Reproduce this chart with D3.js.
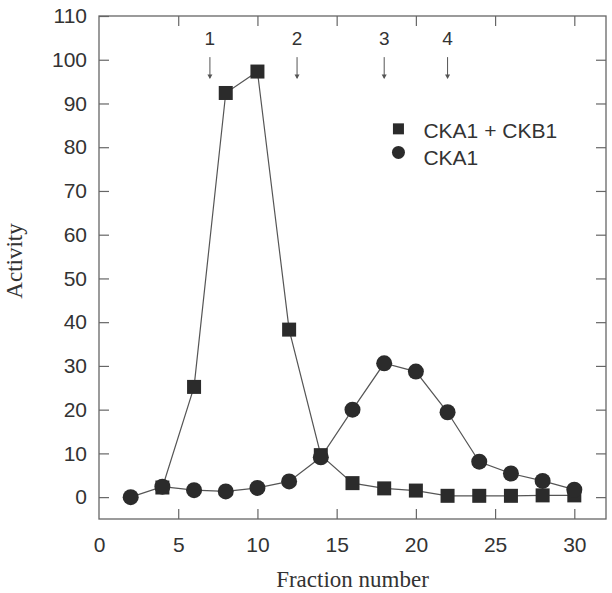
<!DOCTYPE html>
<html>
<head>
<meta charset="utf-8">
<script src="https://cdn.jsdelivr.net/npm/d3@7"></script>
<style>
  body { margin: 0; background: #fff; }
  .axis text { font-family: "Liberation Sans", Arial, sans-serif; font-size: 21px; fill: #333; }
  .axis path { display: none; }
  .axis line { stroke: #666; stroke-width: 1.2px; }
</style>
</head>
<body>
<div id="chart"></div>
<script>
// fraction numbers and activity values
let fractions = [2, 4, 6, 8, 10, 12, 14, 16, 18, 20, 22, 24, 26, 28, 30]
let ckaCkb = [null, 2.2, 25.2, 92.4, 97.3, 38.3, 9.6, 3.2, 2.0, 1.5, 0.3, 0.3, 0.3, 0.4, 0.4]
let cka = [0, 2.4, 1.6, 1.3, 2.1, 3.6, 9.1, 20.0, 30.6, 28.7, 19.4, 8.1, 5.4, 3.7, 1.7]

let xTicks = [0, 5, 10, 15, 20, 25, 30]
let yTicks = [0, 10, 20, 30, 40, 50, 60, 70, 80, 90, 100, 110]

// peak markers above the plot
let markerLabels = ['1', '2', '3', '4']
let markerFractions = [7, 12.5, 18, 22]

let widthNumber = 612
let heightNumber = 593
let margin = {top: 16, right: 6, bottom: 74, left: 99},
    width = widthNumber - margin.left - margin.right,
    height = heightNumber - margin.top - margin.bottom;

let svg = d3.select("#chart")
  .append("svg")
    .attr("width", widthNumber)
    .attr("height", heightNumber)
  .append("g")
    .attr("transform", "translate(" + margin.left + "," + margin.top + ")");

let x = d3.scaleLinear().domain([0, 32]).range([0, width])
let y = d3.scaleLinear().domain([-5, 110]).range([height, 0])

// inward ticks on all four sides
svg.append("g").attr("class", "axis")
  .call(d3.axisLeft(y).tickValues(yTicks).tickSize(-10).tickPadding(12))
svg.append("g").attr("class", "axis")
  .attr("transform", `translate(${width},0)`)
  .call(d3.axisRight(y).tickValues(yTicks.filter(d => d < 110)).tickSize(-10).tickFormat(""))
svg.append("g").attr("class", "axis")
  .attr("transform", `translate(0,${height})`)
  .call(d3.axisBottom(x).tickValues(xTicks).tickSize(-10).tickPadding(18))
  .selectAll(".tick line").filter(d => d == 0).remove()
svg.append("g").attr("class", "axis")
  .call(d3.axisTop(x).tickValues(xTicks.filter(d => d > 0)).tickSize(-10).tickFormat(""))

svg.append("rect")
  .attr("width", width).attr("height", height)
  .attr("fill", "none").attr("stroke", "#666").style("stroke-width", "1.3px")

// axis titles
svg.append("text")
  .attr("transform", `translate(${-77},${y(54)}) rotate(-90)`)
  .attr("text-anchor", "middle")
  .style("font-family", "'Liberation Serif', 'Times New Roman', serif")
  .style("font-size", "23px").style("fill", "#333")
  .text("Activity")
svg.append("text")
  .attr("x", x(16)).attr("y", height + 68)
  .attr("text-anchor", "middle")
  .style("font-family", "'Liberation Serif', 'Times New Roman', serif")
  .style("font-size", "23px").style("fill", "#333")
  .text("Fraction number")

// numbered arrows
markerFractions.forEach(function(f, i){
  svg.append("text")
    .attr("x", x(f)).attr("y", y(103.4))
    .attr("text-anchor", "middle")
    .style("font-family", "'Liberation Sans', Arial, sans-serif")
    .style("font-size", "19px").style("fill", "#333")
    .text(markerLabels[i])
  svg.append("line")
    .attr("x1", x(f)).attr("x2", x(f))
    .attr("y1", y(100.6)).attr("y2", y(95.8))
    .attr("stroke", "#555").style("stroke-width", "1px")
  svg.append("path")
    .attr("d", `M${x(f) - 2.5},${y(96.6)} L${x(f) + 2.5},${y(96.6)} L${x(f)},${y(95.6)} Z`)
    .attr("fill", "#555")
})

let lineGen = d3.line()
  .defined(d => d[1] != null)
  .x(d => x(d[0]))
  .y(d => y(d[1]))

let squareData = fractions.map((f, i) => [f, ckaCkb[i]])
let circleData = fractions.map((f, i) => [f, cka[i]])

svg.append("path").datum(squareData)
  .attr("d", lineGen).attr("fill", "none").attr("stroke", "#555").style("stroke-width", "1.2px")
svg.append("path").datum(circleData)
  .attr("d", lineGen).attr("fill", "none").attr("stroke", "#555").style("stroke-width", "1.2px")

let sq = 14
svg.selectAll(".sq")
  .data(squareData.filter(d => d[1] != null))
  .join("rect")
    .attr("x", d => x(d[0]) - sq / 2)
    .attr("y", d => y(d[1]) - sq / 2)
    .attr("width", sq).attr("height", sq)
    .attr("fill", "#2b2b2b")

svg.selectAll(".dot")
  .data(circleData)
  .join("circle")
    .attr("cx", d => x(d[0]))
    .attr("cy", d => y(d[1]))
    .attr("r", 8)
    .attr("fill", "#2b2b2b")

// legend
let legX = x(18.9)
svg.append("rect").attr("x", legX - 5.5).attr("y", y(84.2) - 5.5).attr("width", 11).attr("height", 11).attr("fill", "#2b2b2b")
svg.append("text").attr("x", legX + 25).attr("y", y(83.6) + 7)
  .style("font-family", "'Liberation Sans', Arial, sans-serif").style("font-size", "21px").style("fill", "#333")
  .text("CKA1 + CKB1")
svg.append("circle").attr("cx", legX).attr("cy", y(78.8)).attr("r", 6.5).attr("fill", "#2b2b2b")
svg.append("text").attr("x", legX + 25).attr("y", y(77.6) + 7)
  .style("font-family", "'Liberation Sans', Arial, sans-serif").style("font-size", "21px").style("fill", "#333")
  .text("CKA1")
</script>
</body>
</html>
